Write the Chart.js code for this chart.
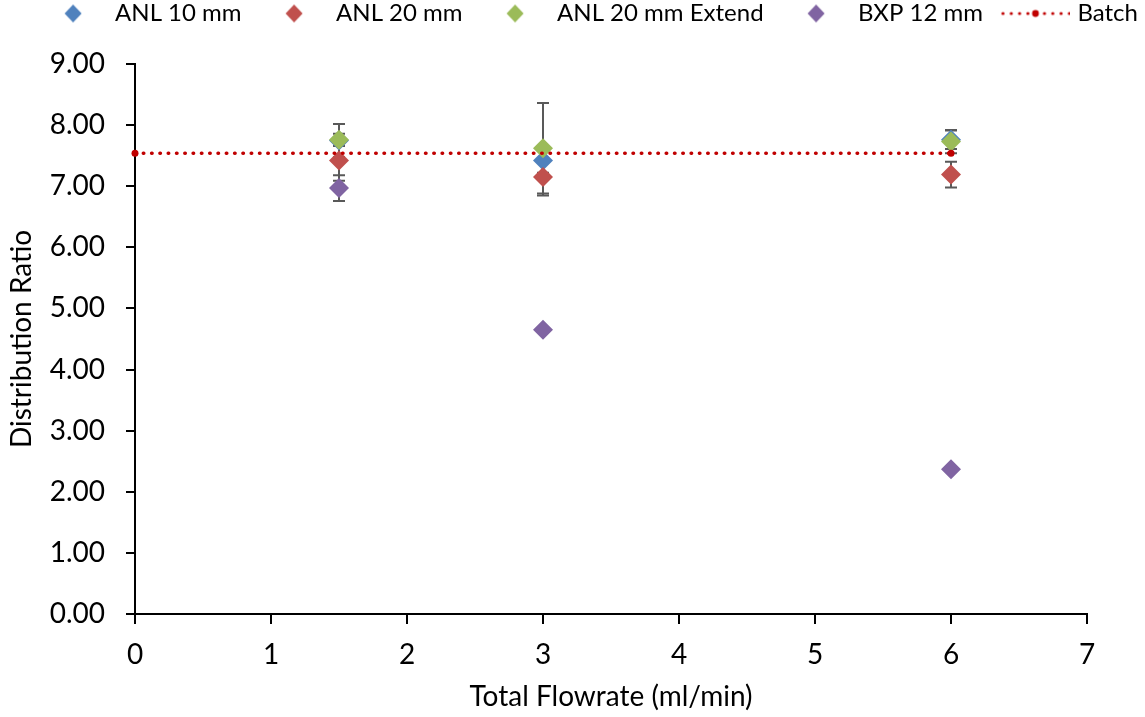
<!DOCTYPE html>
<html>
<head>
<meta charset="utf-8">
<script src="https://cdn.jsdelivr.net/npm/chart.js@4.4.1/dist/chart.umd.min.js"></script>
<style>
  body { margin: 0; background: #fff; }
  #wrap { width: 1145px; height: 717px; }
</style>
</head>
<body>
<div id="wrap"><canvas id="chart"></canvas></div>
<script>
// Distribution ratio vs total flowrate

const flowrates = [1.5, 3, 6];

const anl10 = [7.75, 7.42, 7.76];
const anl10Err = [0.27, 0.20, 0.15];
const anl20 = [7.42, 7.15, 7.19];
const anl20Err = [0.33, 0.30, 0.21];
const anl20Ext = [7.76, 7.62, 7.73];
const anl20ExtErr = [0.10, 0.74, 0.19];
const bxp12 = [6.97, 4.65, 2.37];
const bxp12Err = [0.21, 0, 0];

const batchX = [0, 6];
const batchY = [7.54, 7.54];

const seriesNames = ['ANL 10 mm', 'ANL 20 mm', 'ANL 20 mm Extend', 'BXP 12 mm', 'Batch'];
const colors = ['#4F81BD', '#C0504D', '#9BBB59', '#8064A2', '#C00000'];

const toPoints = (xs, ys) => xs.map((x, i) => ({ x: x, y: ys[i] }));

/** 凡例用の菱形 */
function diamondIcon(color) {
  const c = document.createElement('canvas');
  c.width = 18; c.height = 20;
  const g = c.getContext('2d');
  g.fillStyle = color;
  g.beginPath();
  g.moveTo(9, 1); g.lineTo(17.5, 10); g.lineTo(9, 19); g.lineTo(0.5, 10);
  g.closePath();
  g.fill();
  return c;
}

/** 凡例用の点線 + 点 */
function batchIcon(color) {
  const c = document.createElement('canvas');
  c.width = 70; c.height = 10;
  const g = c.getContext('2d');
  g.fillStyle = color;
  for (let x = 2.5; x < 70; x += 8.3) {
    g.beginPath(); g.arc(x, 5, 1.6, 0, Math.PI * 2); g.fill();
  }
  g.beginPath(); g.arc(35, 5, 3.4, 0, Math.PI * 2); g.fill();
  return c;
}

const legendIcons = [
  diamondIcon(colors[0]), diamondIcon(colors[1]), diamondIcon(colors[2]),
  diamondIcon(colors[3]), batchIcon(colors[4])
];

const errorBarPlugin = {
  id: 'errorBars',
  beforeDatasetsDraw(chart) {
    const ctx = chart.ctx;
    const xs = chart.scales.x, ys = chart.scales.y;
    ctx.save();
    ctx.strokeStyle = '#595959';
    ctx.lineWidth = 2;
    chart.data.datasets.forEach(ds => {
      if (!ds.errors) return;
      ds.data.forEach((p, i) => {
        const e = ds.errors[i];
        if (!e) return;
        const px = xs.getPixelForValue(p.x);
        const top = ys.getPixelForValue(p.y + e);
        const bot = ys.getPixelForValue(p.y - e);
        ctx.beginPath();
        ctx.moveTo(px, top); ctx.lineTo(px, bot);
        ctx.moveTo(px - 6, top); ctx.lineTo(px + 6, top);
        ctx.moveTo(px - 6, bot); ctx.lineTo(px + 6, bot);
        ctx.stroke();
      });
    });
    ctx.restore();
  }
};

const legendLayoutPlugin = {
  id: 'legendLayout',
  beforeInit(chart) {
    const legend = chart.legend;
    const origFit = legend.fit;
    legend.fit = function() {
      this.maxWidth = 2000;
      origFit.call(this);
      this.height = 64;
    };
  },
  afterLayout(chart) {
    // 一行に収めたまま右へ寄せる
    const legend = chart.legend;
    legend.top -= 21;
    legend.left -= 53;
    legend.right += 147;
  }
};

Chart.defaults.font.family = 'Lato';
Chart.defaults.color = '#000';

const scatterDs = (i, ys, errs, order) => ({
  label: seriesNames[i],
  data: toPoints(flowrates, ys),
  errors: errs,
  backgroundColor: colors[i],
  borderColor: colors[i],
  borderWidth: 0,
  pointStyle: 'rectRot',
  pointRadius: 10,
  pointHoverRadius: 10,
  showLine: false,
  order: order
});

new Chart(document.getElementById('chart'), {
  type: 'scatter',
  data: {
    datasets: [
      scatterDs(0, anl10, anl10Err, 4),
      scatterDs(1, anl20, anl20Err, 3),
      scatterDs(2, anl20Ext, anl20ExtErr, 2),
      scatterDs(3, bxp12, bxp12Err, 1),
      {
        label: seriesNames[4],
        data: toPoints(batchX, batchY),
        showLine: true,
        borderColor: colors[4],
        backgroundColor: colors[4],
        borderWidth: 3.5,
        borderDash: [0.5, 7.8],
        borderCapStyle: 'round',
        pointStyle: 'circle',
        pointRadius: 3.5,
        pointBorderWidth: 0,
        clip: false,
        order: 0
      }
    ]
  },
  options: {
    responsive: true,
    maintainAspectRatio: false,
    animation: false,
    layout: { padding: { left: 0, right: 58, top: 0, bottom: 0 } },
    plugins: {
      tooltip: { enabled: false },
      legend: {
        position: 'top',
        labels: {
          usePointStyle: true,
          pointStyleWidth: 60,
          padding: 22.5,
          font: { size: 24 },
          color: '#000',
          generateLabels: function(chart) {
            return chart.data.datasets.map((ds, i) => ({
              text: ds.label,
              pointStyle: legendIcons[i],
              fillStyle: ds.backgroundColor,
              strokeStyle: ds.borderColor,
              lineWidth: 0,
              hidden: false,
              datasetIndex: i
            }));
          }
        }
      }
    },
    scales: {
      x: {
        type: 'linear',
        min: 0,
        max: 7,
        ticks: { stepSize: 1, padding: 14, font: { size: 28 }, color: '#000' },
        grid: { drawOnChartArea: false, drawTicks: true, tickLength: 10, color: '#000', lineWidth: 2 },
        border: { display: true, color: '#000', width: 2 },
        title: { display: true, text: 'Total Flowrate (ml/min)', font: { size: 28 }, color: '#000', padding: { top: 0, bottom: 3 } },
        afterFit: function(scale) { scale.height = 103; }
      },
      y: {
        type: 'linear',
        min: 0,
        max: 9,
        ticks: {
          stepSize: 1,
          padding: 21,
          font: { size: 28 },
          color: '#000',
          callback: function(v) { return Number(v).toFixed(2); }
        },
        grid: { drawOnChartArea: false, drawTicks: true, tickLength: 9, color: '#000', lineWidth: 2 },
        border: { display: true, color: '#000', width: 2 },
        title: { display: true, text: 'Distribution Ratio', font: { size: 28 }, color: '#000', padding: { top: 5, bottom: 0 } },
        afterFit: function(scale) { scale.width = 135; }
      }
    }
  },
  plugins: [errorBarPlugin, legendLayoutPlugin]
});
</script>
</body>
</html>
